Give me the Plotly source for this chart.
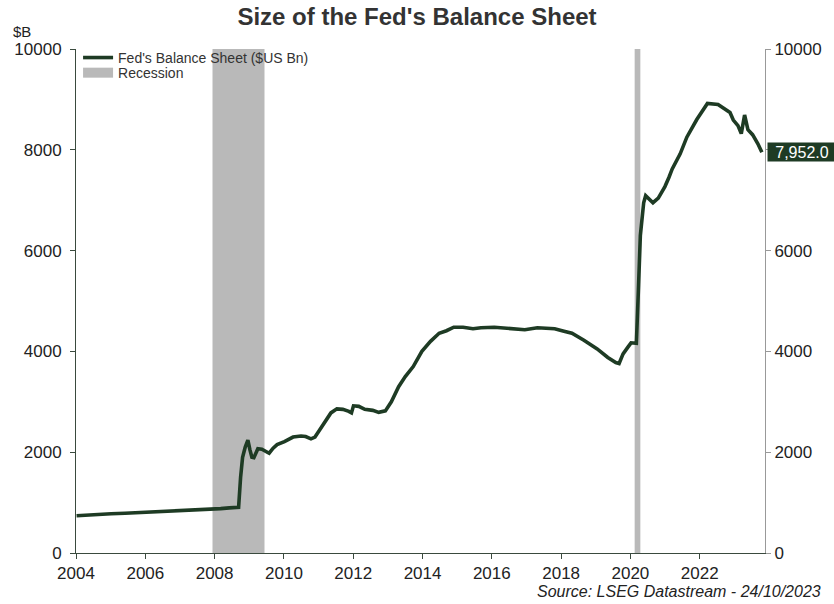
import plotly.graph_objects as go

# Fed's total assets, $US bn (weekly observations, thinned)
dates = [
    "2004-01-07", "2004-06-02", "2005-01-05", "2005-06-01", "2005-10-05",
    "2006-06-07", "2007-01-03", "2007-06-06", "2007-11-07", "2008-03-05",
    "2008-06-04", "2008-09-10", "2008-10-01", "2008-10-22", "2008-11-19",
    "2008-12-17", "2009-01-07", "2009-01-28", "2009-02-18", "2009-04-01",
    "2009-05-13", "2009-06-17", "2009-07-29", "2009-09-09", "2009-10-21",
    "2010-01-06", "2010-04-07", "2010-06-30", "2010-08-18", "2010-10-13",
    "2010-11-24", "2011-01-05", "2011-03-09", "2011-05-11", "2011-07-13",
    "2011-09-14", "2011-11-16", "2011-12-14", "2012-01-04", "2012-02-29",
    "2012-05-02", "2012-07-25", "2012-09-26", "2012-12-05", "2013-02-06",
    "2013-04-24", "2013-07-03", "2013-09-25", "2013-12-25", "2014-03-26",
    "2014-06-25", "2014-09-10", "2014-11-26", "2015-03-04", "2015-06-17",
    "2015-09-09", "2016-01-27", "2016-07-20", "2016-12-14", "2017-04-26",
    "2017-10-25", "2018-01-31", "2018-04-25", "2018-08-29", "2019-01-16",
    "2019-05-08", "2019-07-31", "2019-09-04", "2019-10-16", "2019-12-04",
    "2020-01-08", "2020-03-04", "2020-03-18", "2020-03-25", "2020-04-15",
    "2020-05-20", "2020-06-10", "2020-08-26", "2020-10-21", "2020-12-30",
    "2021-02-10", "2021-03-17", "2021-06-09", "2021-08-18", "2021-12-01",
    "2022-03-23", "2022-07-13", "2022-09-28", "2022-11-16", "2022-12-21",
    "2023-02-08", "2023-03-15", "2023-04-19", "2023-05-24", "2023-07-12",
    "2023-09-06", "2023-10-18",
]
balance = [
    740, 760, 780, 790, 800,
    820, 850, 860, 873, 880,
    895, 905, 1500, 1900, 2100,
    2240, 2050, 1900, 1890, 2070,
    2060, 2030, 1980, 2080, 2150,
    2210, 2300, 2320, 2310, 2265,
    2300, 2420, 2600, 2780, 2860,
    2850, 2810, 2780, 2920, 2910,
    2850, 2830, 2790, 2820, 3000,
    3300, 3500, 3700, 4000, 4200,
    4360, 4410, 4480, 4480, 4450,
    4470, 4480, 4450, 4430, 4470,
    4450, 4400, 4360, 4220, 4050,
    3880, 3780, 3760, 3950, 4080,
    4170, 4160, 4700, 5200, 6300,
    6950, 7090, 6950, 7040, 7270,
    7450, 7620, 7920, 8250, 8600,
    8920, 8900, 8800, 8740, 8590,
    8480, 8320, 8690, 8400, 8300,
    8120, 7952,
]

# US recessions (NBER)
rec_start = ["2007-12-10", "2020-02-15"]
rec_end = ["2009-06-10", "2020-04-15"]

y_ticks = [0, 2000, 4000, 6000, 8000, 10000]
y_ticktext = ["0", "2000", "4000", "6000", "8000", "10000"]
# right-hand 8000 label sits under the latest-value tag
y2_ticktext = ["0", "2000", "4000", "6000", "", "10000"]

LINE = "#1e3b24"
GREY = "#b9b9b9"
FONT = "Liberation Sans, Arial, sans-serif"

fig = go.Figure()

for s, e in zip(rec_start, rec_end):
    fig.add_shape(
        type="rect", xref="x", yref="y", x0=s, x1=e, y0=0, y1=10000,
        fillcolor=GREY, line=dict(width=0), layer="below",
    )

fig.add_trace(go.Scatter(
    x=dates, y=balance, mode="lines", name="Fed's Balance Sheet ($US Bn)",
    line=dict(color=LINE, width=3.6), legend="legend",
))
# legend key for the recession bands
fig.add_trace(go.Scatter(
    x=[None], y=[None], mode="lines", name="Recession",
    line=dict(color=GREY, width=10), legend="legend2",
))
# invisible trace to carry the right-hand axis
fig.add_trace(go.Scatter(
    x=[dates[0]], y=[balance[0]], yaxis="y2", mode="lines",
    line=dict(width=0), showlegend=False, hoverinfo="skip", opacity=0,
))

last_val = balance[-1]
fig.add_annotation(
    x=1.0, xref="paper", xanchor="left", xshift=2,
    y=last_val, yref="y", yanchor="middle",
    text=f"{last_val:,.1f}", showarrow=False,
    font=dict(family=FONT, size=16, color="white"),
    bgcolor=LINE, borderpad=0, width=68, height=18, align="center",
)
fig.add_annotation(
    x=0, xref="paper", xanchor="left", xshift=-65,
    y=1.0, yref="paper", yanchor="bottom", yshift=7,
    text="$B", showarrow=False,
    font=dict(family=FONT, size=15, color="#222"),
)
fig.add_annotation(
    x=1.0, xref="paper", xanchor="right", xshift=58,
    y=0, yref="paper", yanchor="top", yshift=-28,
    text="<i>Source: LSEG Datastream - 24/10/2023</i>", showarrow=False,
    font=dict(family=FONT, size=16, color="#222"),
)

legend_common = dict(
    xanchor="left", yanchor="top", bgcolor="rgba(0,0,0,0)",
    font=dict(family=FONT, size=14, color="#333"), itemwidth=30,
    borderwidth=0,
)

fig.update_layout(
    width=834, height=604,
    margin=dict(l=76, r=66, t=49, b=51),
    paper_bgcolor="white", plot_bgcolor="white",
    font=dict(family=FONT, size=17, color="#222"),
    title=dict(
        text="<b>Size of the Fed's Balance Sheet</b>",
        x=0.5, xanchor="center", y=0.986, yanchor="top",
        font=dict(family=FONT, size=24, color="#333"),
    ),
    showlegend=True,
    legend=dict(x=0.003, y=1.014, **legend_common),
    legend2=dict(x=0.003, y=0.984, **legend_common),
    xaxis=dict(
        type="date", range=["2004-01-01", "2023-11-20"],
        tick0="2004-01-01", dtick="M24", tickformat="%Y",
        showgrid=False, zeroline=False,
        showline=True, linecolor="#3a4a3e", linewidth=1,
        ticks="outside", ticklen=5, tickcolor="#3a4a3e",
        tickfont=dict(size=17),
    ),
    yaxis=dict(
        range=[0, 10000], tickvals=y_ticks, ticktext=y_ticktext,
        showgrid=False, zeroline=False,
        showline=True, linecolor="#3a4a3e", linewidth=1,
        ticks="outside", ticklen=5, tickcolor="#3a4a3e",
        tickfont=dict(size=17), ticklabelstandoff=5,
    ),
    yaxis2=dict(
        range=[0, 10000], tickvals=y_ticks, ticktext=y2_ticktext,
        overlaying="y", side="right",
        showgrid=False, zeroline=False,
        showline=True, linecolor="#999", linewidth=1,
        ticks="outside", ticklen=5, tickcolor="#999",
        tickfont=dict(size=17),
    ),
    hovermode=False,
)

fig.write_html("out.html")
